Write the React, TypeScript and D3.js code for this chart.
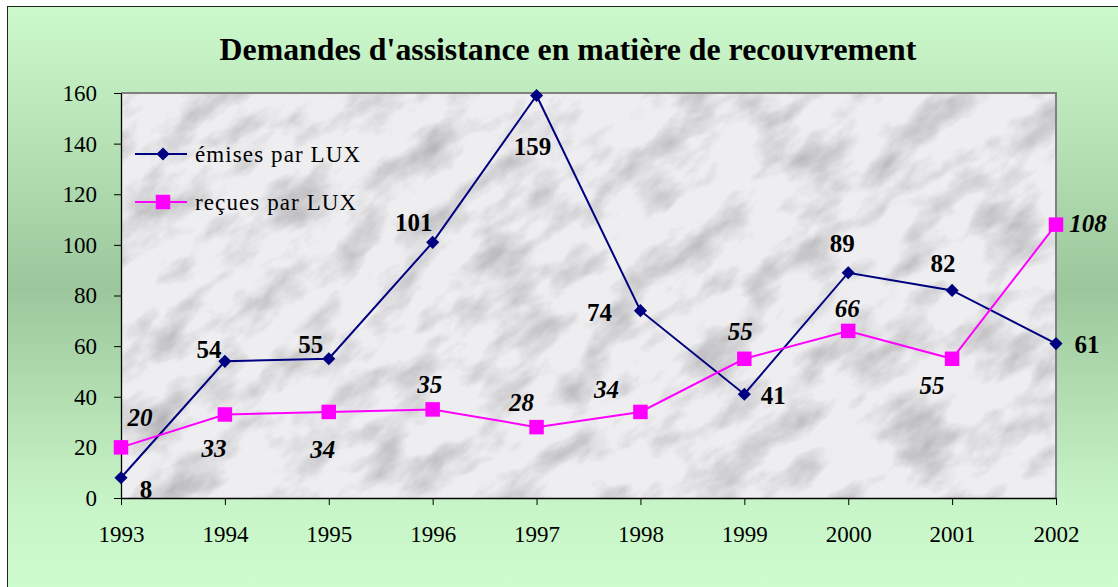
import React, { useEffect, useRef } from 'react';
import * as d3 from 'd3';

// données
const years = ['1993', '1994', '1995', '1996', '1997', '1998', '1999', '2000', '2001', '2002'];
const emises = [8, 54, 55, 101, 159, 74, 41, 89, 82, 61];
const recues = [20, 33, 34, 35, 28, 34, 55, 66, 55, 108];
const yTicks = [0, 20, 40, 60, 80, 100, 120, 140, 160];
const seriesNames = ['émises par LUX', 'reçues par LUX'];

// décalage des étiquettes (dx, dy) autour de chaque point
const emisesLabelPos = [[25, 12], [-16, -12], [-18, -14], [-19, -20], [-4, 51], [-41, 2], [29, 1], [-6, -29], [-9, -27], [31, 1]];
const recuesLabelPos = [[19, -30], [-11, 34], [-6, 38], [-3, -25], [-15, -25], [-34, -22], [-4, -27], [-1, -22], [-20, 27], [32, -1]];

const App: React.FC = () => {
  const svgRef = useRef<SVGSVGElement>(null);

  useEffect(() => {
    const width = 1118;
    const height = 587;
    const left = 121, right = 1056, top = 93, bottom = 498;
    const font = '"Liberation Serif", "Times New Roman", serif';

    const svg = d3.select(svgRef.current)
      .attr('width', width)
      .attr('height', height)
      .attr('viewBox', [0, 0, width, height]);
    svg.selectAll('*').remove();

    const defs = svg.append('defs');
    const grad = defs.append('linearGradient').attr('id', 'bg').attr('x1', 0).attr('y1', 0).attr('x2', 0).attr('y2', 1);
    grad.append('stop').attr('offset', '0%').attr('stop-color', '#cdfacd');
    grad.append('stop').attr('offset', '48%').attr('stop-color', '#9cc79c');
    grad.append('stop').attr('offset', '85%').attr('stop-color', '#c8f5c8');
    grad.append('stop').attr('offset', '100%').attr('stop-color', '#cdfccd');

    const filter = defs.append('filter').attr('id', 'marble')
      .attr('x', 0).attr('y', 0).attr('width', '100%').attr('height', '100%');
    filter.append('feTurbulence').attr('type', 'fractalNoise')
      .attr('baseFrequency', '0.016 0.03').attr('numOctaves', 6).attr('seed', 11).attr('result', 'n');
    filter.append('feColorMatrix').attr('in', 'n').attr('type', 'matrix')
      .attr('values', '0 0 0 0 0.45  0 0 0 0 0.45  0 0 0 0 0.47  -2.0 0 0 0 1.12');

    defs.append('clipPath').attr('id', 'plotClip')
      .append('rect').attr('x', left).attr('y', top).attr('width', right - left).attr('height', bottom - top);

    // fond vert + cadre
    svg.append('rect').attr('x', 7.5).attr('y', 6.5).attr('width', width).attr('height', height)
      .attr('fill', 'url(#bg)').attr('stroke', '#222').attr('stroke-width', 1);

    // zone de traçage marbrée
    svg.append('rect').attr('x', left).attr('y', top).attr('width', right - left).attr('height', bottom - top)
      .attr('fill', '#eeeef0');
    svg.append('g').attr('clip-path', 'url(#plotClip)')
      .append('g').attr('transform', `rotate(-35 ${(left + right) / 2} ${(top + bottom) / 2})`)
      .append('rect').attr('x', left - 300).attr('y', top - 400).attr('width', right - left + 600).attr('height', bottom - top + 800)
      .attr('filter', 'url(#marble)');
    svg.append('path')
      .attr('d', `M${left},${top}H${right}V${bottom}`)
      .attr('fill', 'none').attr('stroke', '#808080').attr('stroke-width', 2);

    const x = d3.scalePoint<string>().domain(years).range([left, right]);
    const y = d3.scaleLinear().domain([0, 160]).range([bottom, top]);

    const ax = svg.append('g').attr('transform', `translate(0,${bottom})`)
      .call(d3.axisBottom(x).tickSize(7).tickPadding(21).tickSizeOuter(0));
    ax.select('.domain').attr('stroke', '#000').attr('stroke-width', 1.3);
    ax.selectAll('line').attr('stroke', '#000');
    ax.selectAll('text').attr('font-family', font).attr('font-size', 23).attr('fill', '#000');

    const ay = svg.append('g').attr('transform', `translate(${left},0)`)
      .call(d3.axisLeft(y).tickValues(yTicks).tickSize(7).tickPadding(17).tickSizeOuter(0));
    ay.select('.domain').attr('stroke', '#000').attr('stroke-width', 1.3);
    ay.selectAll('line').attr('stroke', '#000');
    ay.selectAll('text').attr('font-family', font).attr('font-size', 23).attr('fill', '#000');

    const line = d3.line<number>().x((_, i) => x(years[i])!).y(d => y(d));

    const drawSeries = (vals: number[], color: string, shape: 'diamond' | 'square', pos: number[][], italic: boolean) => {
      svg.append('path').datum(vals).attr('d', line).attr('fill', 'none')
        .attr('stroke', color).attr('stroke-width', 2);
      const sym = shape === 'diamond'
        ? d3.symbol(d3.symbolDiamond2, 110)
        : d3.symbol(d3.symbolSquare, 210);
      svg.append('g').selectAll('path').data(vals).join('path')
        .attr('transform', (d, i) => `translate(${x(years[i])},${y(d)})`)
        .attr('d', sym()).attr('fill', color);
      svg.append('g').selectAll('text').data(vals).join('text')
        .attr('x', (d, i) => x(years[i])! + pos[i][0])
        .attr('y', (d, i) => y(d) + pos[i][1])
        .attr('text-anchor', 'middle').attr('dominant-baseline', 'central')
        .attr('font-family', font).attr('font-size', 25).attr('font-weight', 'bold')
        .attr('font-style', italic ? 'italic' : 'normal').attr('fill', '#000')
        .text(d => d);
    };
    drawSeries(emises, '#000080', 'diamond', emisesLabelPos, false);
    drawSeries(recues, '#ff00ff', 'square', recuesLabelPos, true);

    // légende
    const legend = svg.append('g');
    const legendColors = ['#000080', '#ff00ff'];
    seriesNames.forEach((name, i) => {
      const ly = 154 + i * 48;
      legend.append('line').attr('x1', 135).attr('x2', 187).attr('y1', ly).attr('y2', ly)
        .attr('stroke', legendColors[i]).attr('stroke-width', 2);
      legend.append('path').attr('transform', `translate(163,${ly})`)
        .attr('d', i === 0 ? d3.symbol(d3.symbolDiamond2, 110)() : d3.symbol(d3.symbolSquare, 210)())
        .attr('fill', legendColors[i]);
      legend.append('text').attr('x', 195).attr('y', ly).attr('dominant-baseline', 'central')
        .attr('font-family', font).attr('font-size', 23).attr('letter-spacing', 1.1)
        .attr('fill', '#000').text(name);
    });

    // titre
    svg.append('text').attr('x', 568).attr('y', 60).attr('text-anchor', 'middle')
      .attr('font-family', font).attr('font-size', 31.8).attr('font-weight', 'bold').attr('fill', '#000')
      .text("Demandes d'assistance en matière de recouvrement");
  }, []);

  return <svg ref={svgRef} style={{ position: 'absolute', top: 0, left: 0 }}></svg>;
};

export default App;
